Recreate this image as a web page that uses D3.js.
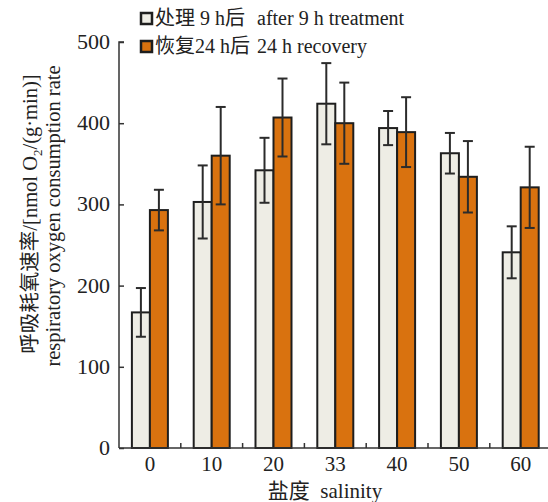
<!DOCTYPE html>
<html>
<head>
<meta charset="utf-8">
<script src="https://cdn.jsdelivr.net/npm/d3@7"></script>
<style>
  body { margin: 0; background: #fff; }
  text { font-family: "Liberation Serif", "Noto Sans CJK SC", serif; fill: #222; }
</style>
</head>
<body>
<div id="chart"></div>
<script>
var salinity = ["0", "10", "20", "33", "40", "50", "60"];
var treatMean = [167, 303, 342, 424, 394, 363, 241];
var treatErr  = [30, 45, 40, 50, 21, 25, 32];
var recovMean = [293, 360, 407, 400, 389, 334, 321];
var recovErr  = [25, 60, 48, 50, 43, 44, 50];
var seriesCn = ["处理 9 h后", "恢复24 h后"];
var seriesEn = ["after 9 h treatment", "24 h recovery"];
var yTicks = [0, 100, 200, 300, 400, 500];

var w = 548, h = 502;
var p = {"top": 42, "left": 119, "bot": 54};

var svg = d3.select("#chart").append("svg")
  .attr("width", w)
  .attr("height", h)

var x = d3.scaleBand()
  .domain(salinity)
  .range([p.left, p.left + 7 * 61.8])
  .padding(0)

var y = d3.scaleLinear()
  .domain([0, 500])
  .range([h - p.bot, p.top])

var colors = ["#eeede5", "#d9720f"];
var barW = 18;

var rows = salinity.map(function(s, i){
  return [
    {"key": s, "k": 0, "v": treatMean[i], "e": treatErr[i]},
    {"key": s, "k": 1, "v": recovMean[i], "e": recovErr[i]}
  ]
})
var flat = [].concat.apply([], rows);

function bx(d){
  return x(d.key) + x.bandwidth() / 2 - barW + d.k * barW;
}

// bars
svg.selectAll(".bar")
  .data(flat)
  .enter()
    .append("rect")
      .attr("x", bx)
      .attr("y", function(d){ return y(d.v) })
      .attr("width", barW)
      .attr("height", function(d){ return y(0) - y(d.v) })
      .style("fill", function(d){ return colors[d.k] })
      .style("stroke", "#1e1e1e")
      .style("stroke-width", 2)

// error bars
var eb = svg.selectAll(".err")
  .data(flat)
  .enter()
    .append("g")
      .style("stroke", "#2b2b2b")
      .style("stroke-width", 2)

eb.append("line")
  .attr("x1", function(d){ return bx(d) + barW / 2 })
  .attr("x2", function(d){ return bx(d) + barW / 2 })
  .attr("y1", function(d){ return y(d.v - d.e) })
  .attr("y2", function(d){ return y(d.v + d.e) })

eb.selectAll(".cap")
  .data(function(d){ return [d.v - d.e, d.v + d.e].map(function(v){ return {"d": d, "v": v} }) })
  .enter()
    .append("line")
      .attr("x1", function(c){ return bx(c.d) + barW / 2 - 5 })
      .attr("x2", function(c){ return bx(c.d) + barW / 2 + 5 })
      .attr("y1", function(c){ return y(c.v) })
      .attr("y2", function(c){ return y(c.v) })

// y axis
var yAxis = d3.axisRight(y).tickValues(yTicks).tickSize(5).tickFormat("");
svg.append("g")
  .attr("transform", "translate(" + p.left + ",0)")
  .call(yAxis)
  .call(function(g){
    g.select(".domain").attr("d", "M5," + y(500) + "H0V" + y(0))
    g.selectAll("path, line").style("stroke", "#333").style("stroke-width", 1.5)
  })

svg.selectAll(".ylab")
  .data(yTicks)
  .enter()
    .append("text")
      .attr("x", p.left - 9)
      .attr("y", function(d){ return y(d) + 7 })
      .style("text-anchor", "end")
      .style("font-size", "22px")
      .text(function(d){ return d })

// x axis with inward ticks between groups
var xAxis = d3.axisTop(x).tickSize(0).tickFormat("");
svg.append("g")
  .attr("transform", "translate(0," + y(0) + ")")
  .call(xAxis)
  .call(function(g){
    g.select(".domain").attr("d", "M" + p.left + ",0H" + w)
    g.selectAll("path").style("stroke", "#333").style("stroke-width", 1.5)
  })

svg.selectAll(".xtick")
  .data(salinity.slice(1))
  .enter()
    .append("line")
      .attr("x1", function(d){ return x(d) })
      .attr("x2", function(d){ return x(d) })
      .attr("y1", y(0))
      .attr("y2", y(0) - 5)
      .style("stroke", "#333")
      .style("stroke-width", 1.5)

svg.selectAll(".xlab")
  .data(salinity)
  .enter()
    .append("text")
      .attr("x", function(d){ return x(d) + x.bandwidth() / 2 })
      .attr("y", 471)
      .style("text-anchor", "middle")
      .style("font-size", "21px")
      .text(function(d){ return d })

svg.append("text")
  .attr("x", 325)
  .attr("y", 498)
  .style("text-anchor", "middle")
  .style("font-size", "21px")
  .text("盐度  salinity")
  .style("white-space", "pre")

// y title
var yt = svg.append("text")
  .attr("transform", "translate(37,214) rotate(-90)")
  .style("text-anchor", "middle")
  .style("font-size", "20.5px")
yt.append("tspan").text("呼吸耗氧速率/[nmol O")
yt.append("tspan").attr("dy", 5).style("font-size", "13px").text("2")
yt.append("tspan").attr("dy", -5).text("/(g·min)]")

svg.append("text")
  .attr("transform", "translate(60,216) rotate(-90)")
  .style("text-anchor", "middle")
  .style("font-size", "20.5px")
  .text("respiratory oxygen consumption rate")

// legend
var leg = svg.selectAll(".leg")
  .data(seriesCn)
  .enter()
    .append("g")
      .attr("transform", function(d, i){ return "translate(141," + (13 + i * 28) + ")" })

leg.append("rect")
  .attr("width", 11)
  .attr("height", 11)
  .style("fill", function(d, i){ return colors[i] })
  .style("stroke", "#1e1e1e")
  .style("stroke-width", 2.5)

leg.append("text")
  .attr("x", 14)
  .attr("y", 12)
  .style("font-size", "20px")
  .text(function(d){ return d })

leg.append("text")
  .attr("x", function(d, i){ return i == 0 ? 116 : 116 })
  .attr("y", 12)
  .style("font-size", "20px")
  .text(function(d, i){ return seriesEn[i] })
</script>
</body>
</html>
